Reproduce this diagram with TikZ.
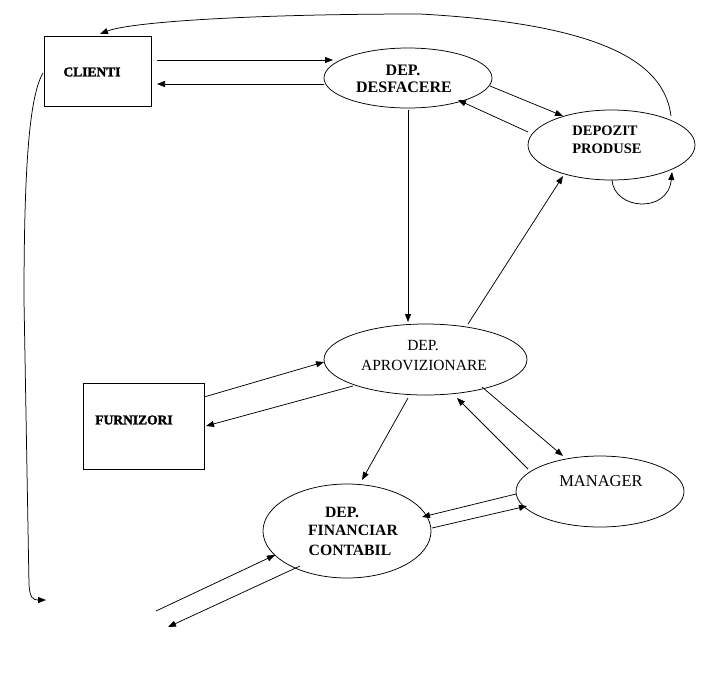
\documentclass[tikz,border=0pt]{standalone}
\usepackage{fontspec}
\setmainfont{Liberation Serif}
\usetikzlibrary{arrows.meta,calc,shapes.geometric}
\begin{document}
\begin{tikzpicture}[x=1pt,y=-1pt,
  line width=0.75pt,
  arr/.style={-{Triangle[length=8pt,width=6pt]}},
  ell/.style={draw,ellipse,inner sep=0pt},
  boxx/.style={draw,rectangle,inner sep=0pt},
  lbl/.style={inner sep=0pt,font=\fontsize{15.5}{18}\selectfont},
  blbl/.style={inner sep=0pt,font=\fontsize{14.5}{18}\selectfont\bfseries},
  rlbl/.style={inner sep=0pt,font=\fontsize{13.5}{16}\selectfont\bfseries\addfontfeature{FakeBold=2}}]
\useasboundingbox[fill=white] (0,0) rectangle (708,672);
% nodes
\node[boxx,minimum width=107pt,minimum height=70pt] (cli) at (97.5,71) {};
\node[ell,minimum width=168pt,minimum height=60pt] (desf) at (408,78) {};
\node[ell,minimum width=167pt,minimum height=70pt] (depo) at (611.5,145) {};
\node[ell,minimum width=203pt,minimum height=71pt] (aprov) at (425.5,359.5) {};
\node[boxx,minimum width=121pt,minimum height=86pt] (furn) at (143.5,426) {};
\node[ell,minimum width=168pt,minimum height=71pt] (man) at (600,491.5) {};
\node[ell,minimum width=168pt,minimum height=94pt] (fin) at (347,531) {};
% texts
\node[rlbl] (cliT) at (92,72) {CLIENTI};
\node[rlbl] (furnT) at (134,420) {FURNIZORI};
\node[blbl,font=\fontsize{16}{18}\selectfont\bfseries] (desfT1) at (403,70) {DEP.};
\node[blbl,font=\fontsize{16}{18}\selectfont\bfseries] (desfT2) at (404,87) {DESFACERE};
\node[blbl] (depoT1) at (605,131) {DEPOZIT};
\node[blbl] (depoT2) at (607,149) {PRODUSE};
\node[lbl] (aprovT1) at (423,346) {DEP.};
\node[lbl] (aprovT2) at (424,365) {APROVIZIONARE};
\node[lbl,font=\fontsize{16.5}{18}\selectfont] (manT) at (601,481) {MANAGER};
\node[blbl,font=\fontsize{15.7}{18}\selectfont\bfseries] (finT1) at (342,512) {DEP.};
\node[blbl,font=\fontsize{15.7}{18}\selectfont\bfseries] (finT2) at (353,530) {FINANCIAR};
\node[blbl,font=\fontsize{15.7}{18}\selectfont\bfseries] (finT3) at (350,550) {CONTABIL};
% free ends
\coordinate (e1) at (156,611);
\coordinate (e2) at (168,627);
\coordinate (e3) at (46,600);
% connectors
\draw[arr] ($(cli)+(59.5,-11)$) -- ($(desf)+(-75,-18)$);
\draw[arr] ($(desf)+(-84,6)$) -- ($(cli)+(59.5,13)$);
\draw[arr] ($(desf)+(82,8)$) -- ($(depo)+(-48.5,-29)$);
\draw[arr] ($(depo)+(-83.5,-13)$) -- ($(desf)+(50,22)$);
\draw[arr] ($(depo)+(0.5,35)$) .. controls ($(depo)+(2.5,65)$) and ($(depo)+(56.5,69)$) .. ($(depo)+(60.5,27)$);
\draw[arr] ($(depo)+(59.5,-29)$) .. controls (665,70) and (620,25) .. (420,14)
   .. controls (250,14) and (130,22) .. ($(cli)+(2.5,-37)$);
\draw[arr] ($(desf)+(0,32)$) -- ($(aprov)+(-17.5,-37.5)$);
\draw[arr] ($(aprov)+(42.5,-35.5)$) -- ($(depo)+(-48.5,31)$);
\draw[arr] ($(furn)+(60.5,-29)$) -- ($(aprov)+(-101.5,2.5)$);
\draw[arr] ($(aprov)+(-72.5,26.5)$) -- ($(furn)+(62.5,0)$);
\draw[arr] ($(aprov)+(-17.5,38.5)$) -- ($(fin)+(15,-51)$);
\draw[arr] ($(aprov)+(56.5,27.5)$) -- ($(man)+(-37,-35.5)$);
\draw[arr] ($(man)+(-72,-22.5)$) -- ($(aprov)+(31.5,38.5)$);
\draw[arr] ($(man)+(-84,2.5)$) -- ($(fin)+(75,-14)$);
\draw[arr] ($(fin)+(85,-3)$) -- ($(man)+(-73,14.5)$);
\draw[arr] (e1) -- ($(fin)+(-72,24)$);
\draw[arr] ($(fin)+(-47,35)$) -- (e2);
\draw[arr] ($(cli)+(-54.5,2)$) .. controls (30,95) and (24,160) .. (24,300)
   -- (29,585) .. controls (30,598) and (33,600) .. (e3);
\end{tikzpicture}
\end{document}
